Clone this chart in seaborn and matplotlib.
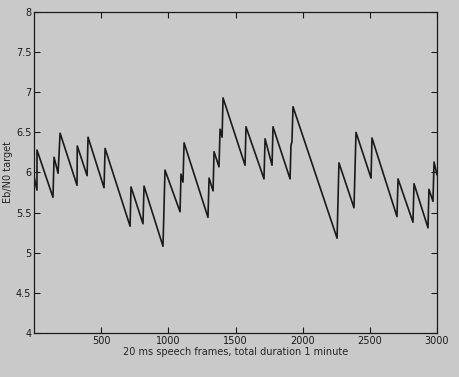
import numpy as np
import pandas as pd
import matplotlib
matplotlib.use("Agg")
import matplotlib.pyplot as plt
import seaborn as sns

# vertices of the Eb/N0 target trace (frame index, target value)
frames = [0, 22, 22, 141, 149, 179, 194, 320, 322, 395, 402, 521, 529,
          715, 722, 811, 819, 960, 975, 1087, 1094, 1109, 1117, 1295, 1303,
          1333, 1340, 1377, 1385, 1400, 1407, 1571, 1578, 1712, 1720, 1772,
          1779, 1906, 1913, 1920, 1928, 2256, 2270, 2382, 2397, 2509, 2516,
          2702, 2710, 2821, 2829, 2933, 2940, 2970, 2978, 3000]
target = [5.95, 5.78, 6.28, 5.69, 6.19, 5.99, 6.49, 5.84, 6.33, 5.96, 6.44,
          5.81, 6.30, 5.33, 5.82, 5.36, 5.83, 5.08, 6.03, 5.51, 5.98, 5.88,
          6.37, 5.44, 5.93, 5.77, 6.26, 6.07, 6.54, 6.44, 6.93, 6.09, 6.57,
          5.92, 6.42, 6.09, 6.57, 5.92, 6.34, 6.38, 6.82, 5.18, 6.12, 5.56,
          6.50, 5.93, 6.43, 5.45, 5.92, 5.38, 5.86, 5.31, 5.79, 5.64, 6.13,
          5.97]
xticks = [500, 1000, 1500, 2000, 2500, 3000]
yticks = [4, 4.5, 5, 5.5, 6, 6.5, 7, 7.5, 8]

df = pd.DataFrame({"frame": frames, "target": target})

sns.set_style("ticks")
plt.rcParams['font.family'] = ['DejaVu Sans']
bg = "#c9c9c9"

fig = plt.figure(figsize=(4.6, 3.77), dpi=100, facecolor=bg)
ax = fig.add_axes([0.074, 0.117, 0.876, 0.851], facecolor=bg)
sns.lineplot(data=df, x="frame", y="target", ax=ax, color="#1a1a1a",
             linewidth=1.2, sort=False, estimator=None)

ax.set_xlim(0, 3000)
ax.set_ylim(4, 8)
ax.set_xticks(xticks)
ax.set_yticks(yticks)
ax.set_yticklabels([f"{v:g}" for v in yticks])
ax.tick_params(direction="in", length=4, width=0.8, labelsize=7,
               top=True, right=True, colors="#1a1a1a", pad=2)
for s in ax.spines.values():
    s.set_color("#1a1a1a")
    s.set_linewidth(0.9)
ax.set_xlabel("20 ms speech frames, total duration 1 minute", fontsize=7, labelpad=1)
ax.set_ylabel("Eb/N0 target", fontsize=7, labelpad=2)

fig.savefig("out.png", dpi=100, facecolor=bg)
